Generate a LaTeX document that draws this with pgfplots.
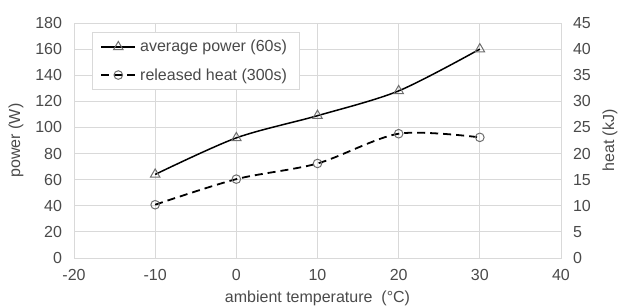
\documentclass[border=0pt]{standalone}
\usepackage{fontspec}
\setmainfont{Liberation Sans}
\usepackage{pgfplots}
\pgfplotsset{compat=1.18}
\definecolor{txt}{HTML}{4A4A4A}
\definecolor{grd}{HTML}{D9D9D9}
\definecolor{mk}{HTML}{6E6E6E}
\begin{document}
\begin{tikzpicture}[font=\fontsize{16}{18}\selectfont]
\path[use as bounding box] (0,0) rectangle (619pt,307pt);
\begin{axis}[
  at={(74pt,49pt)}, anchor=south west,
  scale only axis, width=487pt, height=235pt,
  xmin=-20, xmax=40, ymin=0, ymax=180,
  xtick={-20,-10,...,40}, ytick={0,20,...,180},
  grid=major, grid style={grd, line width=0.8pt},
  axis line style={grd, line width=0.8pt},
  major tick length=0pt,
  tick label style={text=txt},
  /pgf/number format/assume math mode=true,
  yticklabel style={xshift=-8.5pt},
  xticklabel style={yshift=-7.5pt},
  ylabel={power (W)},
  xlabel={ambient temperature\ \ (°C)},
  every axis y label/.style={at={(axis description cs:0,0.5)}, xshift=-58pt, rotate=90, anchor=center, text=txt},
  every axis x label/.style={at={(axis description cs:0.5,0)}, yshift=-40pt, anchor=center, text=txt},
  legend style={at={(axis description cs:0,1)}, anchor=north west, xshift=18pt, yshift=-9pt,
    draw=grd, line width=0.8pt, fill=white, text=txt, row sep=11pt, inner xsep=8pt, inner ysep=6pt,
    nodes={inner xsep=4pt},
    font=\fontsize{16}{18}\selectfont},
  legend cell align=left,
  legend image code/.code={\draw[mark repeat=2,mark phase=2,#1] plot coordinates {(0pt,0pt) (17pt,0pt) (34pt,0pt)};},
]
\addplot[black, line width=1.5pt, smooth, mark=triangle, mark size=5.5pt, mark options={solid, draw=mk, fill=none, line width=1pt}]
  coordinates {(-10,64) (0,92) (10,109) (20,128) (30,160)};
\addlegendentry{average power (60s)}
\addlegendimage{black, line width=1.8pt, dash pattern=on 8pt off 5pt, mark=o, mark size=4.3pt, mark options={solid, draw=mk, fill=none, line width=1pt}}
\addlegendentry{released heat (300s)}
\end{axis}
\begin{axis}[
  at={(74pt,49pt)}, anchor=south west,
  scale only axis, width=487pt, height=235pt,
  xmin=-20, xmax=40, ymin=0, ymax=45,
  ytick={0,5,...,45},
  axis y line*=right, axis x line=none,
  axis line style={grd, line width=0.8pt},
  major tick length=0pt,
  tick label style={text=txt},
  /pgf/number format/assume math mode=true,
  yticklabel style={xshift=8.5pt},
  ylabel={heat (kJ)},
  every axis y label/.style={at={(axis description cs:1,0.5)}, xshift=49pt, rotate=90, anchor=center, text=txt},
]
\addplot[black, line width=1.8pt, dash pattern=on 8pt off 5pt, smooth, mark=o, mark size=4.3pt, mark options={solid, draw=mk, fill=none, line width=1pt}]
  coordinates {(-10,10.2) (0,15.1) (10,18.1) (20,23.8) (30,23.1)};
\end{axis}
\end{tikzpicture}
\end{document}
